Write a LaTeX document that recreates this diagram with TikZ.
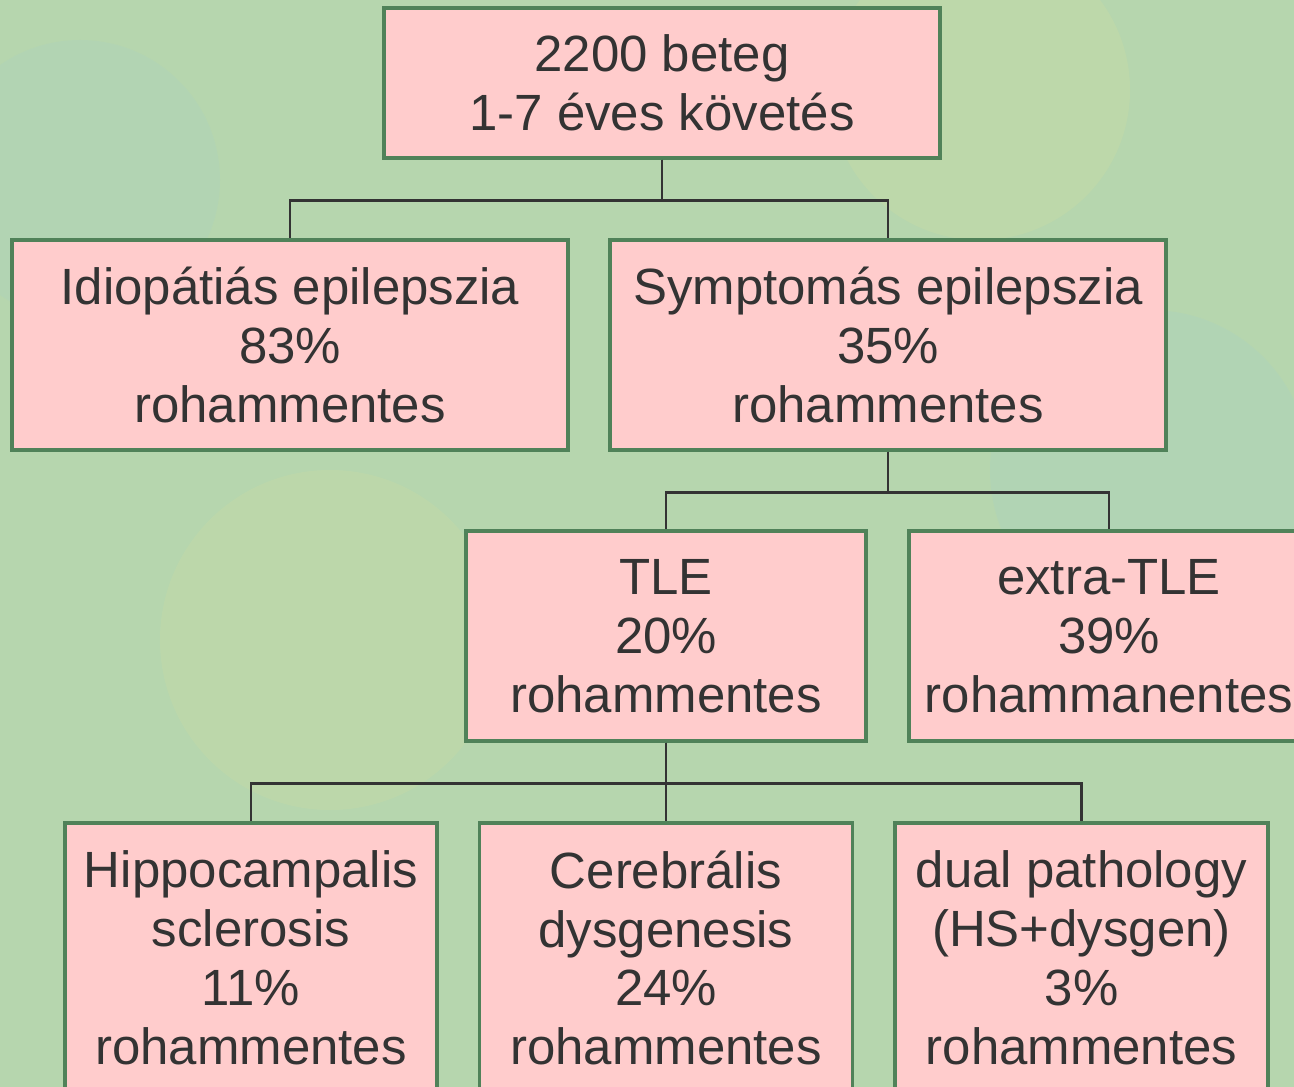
\documentclass[tikz,border=0pt]{standalone}
\usepackage{fontspec}
\setmainfont{Liberation Sans}
\definecolor{bgreen}{HTML}{B6D6AE}
\definecolor{bgyellow}{HTML}{CCDCA4}
\definecolor{bgblue}{HTML}{A8D2C4}
\definecolor{boxfill}{HTML}{FFCCCC}
\definecolor{boxline}{HTML}{508259}
\definecolor{ink}{HTML}{333333}

\begin{document}
\begin{tikzpicture}[x=0.02cm,y=-0.02cm,
    box/.style={draw=boxline,fill=boxfill,line width=1.8pt,text=ink,align=center,
        inner sep=0pt,font=\fontsize{29}{33.5}\selectfont},
    link/.style={draw=ink,line width=1.6pt}]
            \useasboundingbox (0,0) rectangle (1294,1087);
            \clip (0,0) rectangle (1294,1087);
            \fill[bgreen] (0,0) rectangle (1294,1087);
            \fill[bgyellow,opacity=0.35] (980,90) circle (150);
            \fill[bgyellow,opacity=0.3] (330,640) circle (170);
            \fill[bgblue,opacity=0.3] (1150,470) circle (160);
            \fill[bgblue,opacity=0.25] (80,180) circle (140);

            \node[box,minimum width=11.12cm,minimum height=3.0cm] (top) at (662,83)
                {2200 beteg\\1-7 éves követés};

            \node[box,minimum width=11.12cm,minimum height=4.2cm] (idio) at (290,345)
                {Idiopátiás epilepszia\\83\%\\rohammentes};
            \node[box,minimum width=11.12cm,minimum height=4.2cm] (symp) at (888,345)
                {Symptomás epilepszia\\35\%\\rohammentes};

            \node[box,minimum width=8.0cm,minimum height=4.2cm] (tle) at (666,636)
                {TLE\\20\%\\rohammentes};
            \node[box,minimum width=8.0cm,minimum height=4.2cm] (extra) at (1109,636)
                {extra-TLE\\39\%\\rohammanentes};

            \node[box,minimum width=7.44cm,minimum height=5.4cm] (hs) at (251,958)
                {Hippocampalis\\sclerosis\\11\%\\rohammentes};
            \node[box,minimum width=7.46cm,minimum height=5.4cm] (cd) at (666,958)
                {Cerebrális\\dysgenesis\\24\%\\rohammentes};
            \node[box,minimum width=7.46cm,minimum height=5.4cm] (dual) at (1081.5,958)
                {dual pathology\\(HS+dysgen)\\3\%\\rohammentes};

            \draw[link] (top.south) -- ++(0,41) -| (idio.north);
            \draw[link] (top.south) -- ++(0,41) -| (symp.north);

            \draw[link] (symp.south) -- ++(0,41) -| (tle.north);
            \draw[link] (symp.south) -- ++(0,41) -| (extra.north);

            \draw[link] (tle.south) -- ++(0,41) -| (hs.north);
            \draw[link] (tle.south) -- (cd.north);
            \draw[link] (tle.south) -- ++(0,41) -| (dual.north);
        \end{tikzpicture}
\end{document}
